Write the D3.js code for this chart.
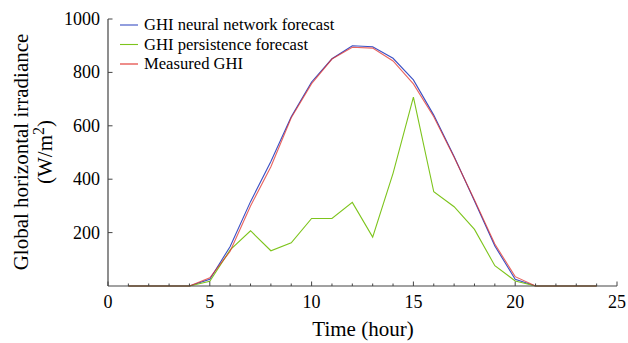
<!DOCTYPE html>
<html><head><meta charset="utf-8">
<script src="https://cdn.jsdelivr.net/npm/d3@7"></script>
<style>body{margin:0;background:#fff}svg{display:block}text{font-family:"Liberation Serif","Times New Roman",serif}</style>
</head><body><svg id="c" width="628" height="343"></svg>
<script>
const hours = [1,2,3,4,5,6,7,8,9,10,11,12,13,14,15,16,17,18,19,20,21,22,23,24];
const nnForecast   = [0,0,0,0,25,148,316,466,634,764,851,900,896,853,772,640,485,318,150,25,0,0,0,0];
const persistence  = [0,0,0,0,18,135,207,132,162,253,253,313,183,422,707,353,297,212,76,19,0,0,0,0];
const measured     = [0,0,0,0,31,130,300,447,630,758,850,894,891,843,757,634,482,322,157,35,0,0,0,0];
const seriesNames = ["GHI neural network forecast","GHI persistence forecast","Measured GHI"];
const seriesColors = ["#3a4fc4","#7dc41c","#e0302a"];
const xTicks = [0,5,10,15,20,25];
const yTicks = [200,400,600,800,1000];

const svg = d3.select("#c");
const x = d3.scaleLinear().domain([0,25]).range([108,617]);
const y = d3.scaleLinear().domain([0,1000]).range([286,19]);
const axisColor = "#444";

// series
const line = d3.line().x((d,i)=>x(hours[i])).y(d=>y(d));
[nnForecast, persistence, measured].forEach((s,k)=>{
  svg.append("path").attr("d", line(s)).attr("fill","none")
    .attr("stroke", seriesColors[k]).attr("stroke-width",1.1)
    .attr("stroke-opacity", k===2 ? 0.75 : 1);
});

// x axis
const gx = svg.append("g");
gx.append("line").attr("x1",x(0)).attr("x2",x(25)).attr("y1",y(0)).attr("y2",y(0)).attr("stroke",axisColor).attr("stroke-width",1.2);
d3.range(0,26).forEach(v=>{
  const major = v%5===0;
  gx.append("line").attr("x1",x(v)).attr("x2",x(v)).attr("y1",y(0)).attr("y2",y(0)-(major?4.5:2.5)).attr("stroke",axisColor).attr("stroke-width",1);
});
xTicks.forEach(v=>{
  gx.append("text").attr("x",x(v)).attr("y",308).attr("text-anchor","middle").attr("font-size",18).text(v);
});
// y axis
const gy = svg.append("g");
gy.append("line").attr("x1",x(0)).attr("x2",x(0)).attr("y1",y(0)).attr("y2",y(1000)).attr("stroke",axisColor).attr("stroke-width",1.2);
yTicks.forEach(v=>{
  gy.append("line").attr("x1",x(0)).attr("x2",x(0)+4.5).attr("y1",y(v)).attr("y2",y(v)).attr("stroke",axisColor).attr("stroke-width",1);
  gy.append("text").attr("x",100).attr("y",y(v)+6).attr("text-anchor","end").attr("font-size",18).text(v);
});

// axis titles
svg.append("text").attr("x",363).attr("y",336).attr("text-anchor","middle").attr("font-size",21).text("Time (hour)");
const yl = svg.append("g").attr("transform","translate(0,152) rotate(-90)");
yl.append("text").attr("x",0).attr("y",28).attr("text-anchor","middle").attr("font-size",21).text("Global horizontal irradiance");
const t2 = yl.append("text").attr("x",0).attr("y",52).attr("text-anchor","middle").attr("font-size",21);
t2.append("tspan").text("(W/m");
t2.append("tspan").attr("dy",-8).attr("font-size",16).text("2");
t2.append("tspan").attr("dy",8).text(")");

// legend
seriesNames.forEach((n,k)=>{
  const yy = 25 + k*19.5;
  svg.append("line").attr("x1",120).attr("x2",138).attr("y1",yy).attr("y2",yy).attr("stroke",seriesColors[k]).attr("stroke-width",1.1);
  svg.append("text").attr("x",144).attr("y",yy+5).attr("font-size",16.6).text(n);
});
</script></body></html>
